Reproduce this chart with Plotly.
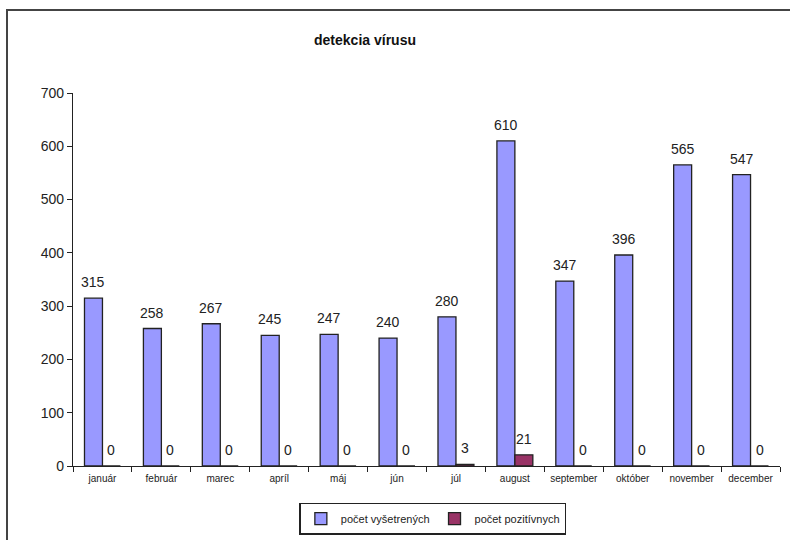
import plotly.graph_objects as go

months = ["január", "február", "marec", "apríl", "máj", "jún", "júl",
          "august", "september", "október", "november", "december"]
vysetrenych = [315, 258, 267, 245, 247, 240, 280, 610, 347, 396, 565, 547]
pozitivnych = [0, 0, 0, 0, 0, 0, 3, 21, 0, 0, 0, 0]
y_ticks = [0, 100, 200, 300, 400, 500, 600, 700]

BLUE = "#9999FF"
PLUM = "#993366"
FONT = "Liberation Sans, Arial, sans-serif"

fig = go.Figure()
fig.add_trace(go.Bar(
    x=months, y=vysetrenych, name="počet vyšetrených",
    marker=dict(color=BLUE, line=dict(color="#222222", width=1.3)),
))
fig.add_trace(go.Bar(
    x=months, y=pozitivnych, name="počet pozitívnych",
    marker=dict(color=PLUM, line=dict(color="#222222", width=1.3)),
))

# value labels above each bar of the group (blue on the left, plum on the right)
BAR_HALF = 9
for series, shift in ((vysetrenych, -BAR_HALF), (pozitivnych, BAR_HALF)):
    for m, v in zip(months, series):
        fig.add_annotation(x=m, y=v, text=str(v), showarrow=False,
                           xshift=shift, yshift=6, yanchor="bottom",
                           font=dict(family=FONT, size=14, color="#222222"))

# outer chart frame, partly running off the page on the right and bottom
fig.add_shape(type="rect", xref="paper", yref="paper",
              x0=(7 - 73) / 707, x1=(800 - 73) / 707,
              y0=(466 - 560) / 373, y1=(466 - 10) / 373,
              line=dict(color="#444444", width=2), layer="below")

fig.update_layout(
    width=790, height=540,
    margin=dict(l=73, r=10, t=93, b=74, autoexpand=False),
    paper_bgcolor="white", plot_bgcolor="white",
    barmode="group", bargap=0.39, bargroupgap=0,
    font=dict(family=FONT, size=12, color="#222222"),
    title=dict(text="<b>detekcia vírusu</b>", x=(365 - 73) / 707, xref="paper",
               xanchor="center", y=1 - 40 / 540, yanchor="middle",
               font=dict(family=FONT, size=14, color="#111111")),
    showlegend=True,
    legend=dict(orientation="h", x=0.509, xanchor="center", y=-0.098,
                yanchor="top", bordercolor="#222222", borderwidth=1.5,
                font=dict(family=FONT, size=11, color="#222222"),
                itemwidth=30, traceorder="normal"),
    xaxis=dict(showline=True, linecolor="#222222", linewidth=1.3,
               ticks="outside", ticklen=5, tickcolor="#222222",
               tickson="boundaries", showgrid=False, ticklabelstandoff=3,
               tickfont=dict(family=FONT, size=10, color="#222222")),
    yaxis=dict(range=[0, 700], tickvals=y_ticks, showline=True,
               linecolor="#222222", linewidth=1.3, ticks="outside",
               ticklen=5, tickcolor="#222222", showgrid=False, zeroline=False,
               tickfont=dict(family=FONT, size=14, color="#222222")),
)

fig.write_html("out.html")
